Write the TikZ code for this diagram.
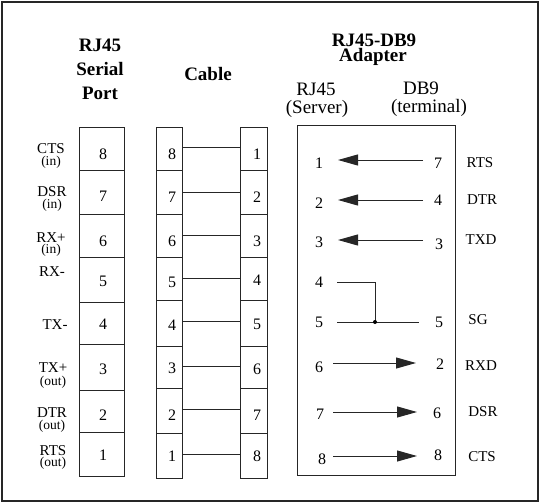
\documentclass[tikz,border=0pt]{standalone}
\usepackage{fontspec}
\setmainfont{Liberation Serif}
\usetikzlibrary{arrows.meta}
\begin{document}
\begin{tikzpicture}[x=1pt,y=-1pt,
  ln/.style={draw=black!85, line width=1pt},
  title/.style={font=\bfseries\fontsize{19}{20}\selectfont, inner sep=0pt, anchor=base},
  head/.style={font=\fontsize{19}{20}\selectfont, inner sep=0pt, anchor=base},
  num/.style={font=\fontsize{16}{17}\selectfont, inner sep=0pt},
  lab/.style={font=\fontsize{15}{16}\selectfont, inner sep=0pt},
  sublab/.style={font=\fontsize{13.5}{14}\selectfont, inner sep=0pt},
  sigarrow/.style={ln, -{Triangle[length=20pt,width=11pt]}}]
\useasboundingbox (0,0) rectangle (540,503);
\draw[draw=black!85, line width=2pt] (2,2) rectangle (538,501);

% titles
\node[title] (t1) at (100,52) {RJ45};
\node[title] (t2) at (100,75) {Serial};
\node[title] (t3) at (100,99) {Port};
\node[title] (t4) at (208,80) {Cable};
\node[title] (t5) at (374,47) {RJ45-DB9};
\node[title] (t6) at (373,62) {Adapter};
\node[head] (h1) at (316,95) {RJ45};
\node[head] (h2) at (317,113) {(Server)};
\node[head] (h3) at (421,94) {DB9};
\node[head] (h4) at (429,112) {(terminal)};

% left RJ45 box
\draw[ln] (79,127) rectangle (124,476);
\foreach \y in {170,214,257,302,344,390,432} \draw[ln] (79,\y) -- (124,\y);
\foreach \n/\y in {8/154,7/196,6/241,5/281,4/324,3/369,2/415,1/455}
  \node[num] (p\n) at (103,\y) {\n};

% signal names
\node[lab] (s1) at (51,149) {CTS};
\node[sublab] (s1b) at (51,162) {(in)};
\node[lab] (s2) at (52,192) {DSR};
\node[sublab] (s2b) at (52,205) {(in)};
\node[lab] (s3) at (51,238) {RX+};
\node[sublab] (s3b) at (51,250) {(in)};
\node[lab] (s4) at (52,272) {RX-};
\node[lab] (s5) at (55,325) {TX-};
\node[lab] (s6) at (53,368) {TX+};
\node[sublab] (s6b) at (53,382) {(out)};
\node[lab] (s7) at (52,413) {DTR};
\node[sublab] (s7b) at (52,426) {(out)};
\node[lab] (s8) at (53,451) {RTS};
\node[sublab] (s8b) at (53,463) {(out)};

% cable boxes
\draw[ln] (156,127) rectangle (182,478);
\draw[ln] (240,127) rectangle (267,478);
\foreach \y in {170,214,257,300,346,388,433} {
  \draw[ln] (156,\y) -- (182,\y);
  \draw[ln] (240,\y) -- (267,\y);
}
\foreach \n/\y in {8/154,7/197,6/241,5/282,4/325,3/368,2/415,1/456}
  \node[num] (cl\n) at (172,\y) {\n};
\foreach \n/\y in {1/154,2/197,3/241,4/280,5/324,6/369,7/415,8/456}
  \node[num] (cr\n) at (257,\y) {\n};
\foreach \i/\y in {1/147,2/192,3/235,4/278,5/321,6/366,7/409,8/454} {
  \coordinate (wl\i) at (182,\y);
  \coordinate (wr\i) at (240,\y);
  \draw[ln] (wl\i) -- (wr\i);
}

% adapter box
\draw[ln] (297,125) rectangle (455,475);
\node[num] (a1) at (319,163) {1};
\node[num] (a2) at (319,203) {2};
\node[num] (a3) at (319,242) {3};
\node[num] (a4) at (319,282) {4};
\node[num] (a5) at (319,322) {5};
\node[num] (a6) at (319,367) {6};
\node[num] (a7) at (320,414) {7};
\node[num] (a8) at (322,459) {8};
\node[num] (b7) at (438,163) {7};
\node[num] (b4) at (438,200) {4};
\node[num] (b3) at (439,244) {3};
\node[num] (b5) at (439,322) {5};
\node[num] (b2) at (440,364) {2};
\node[num] (b6) at (437,413) {6};
\node[num] (b8) at (438,455) {8};
\node[lab] (r1) at (480,163) {RTS};
\node[lab] (r2) at (482,200) {DTR};
\node[lab] (r3) at (481,240) {TXD};
\node[lab] (r5) at (478,320) {SG};
\node[lab] (r6) at (481,366) {RXD};
\node[lab] (r7) at (483,412) {DSR};
\node[lab] (r8) at (482,457) {CTS};

\coordinate (e1s) at (423,160); \coordinate (e1t) at (338,160);
\coordinate (e2s) at (423,200); \coordinate (e2t) at (338,200);
\coordinate (e3s) at (423,240); \coordinate (e3t) at (338,240);
\draw[sigarrow] (e1s) -- (e1t);
\draw[sigarrow] (e2s) -- (e2t);
\draw[sigarrow] (e3s) -- (e3t);
\coordinate (e6s) at (333,363); \coordinate (e6t) at (416,363);
\coordinate (e7s) at (333,412); \coordinate (e7t) at (417,412);
\coordinate (e8s) at (333,456); \coordinate (e8t) at (417,456);
\draw[sigarrow] (e6s) -- (e6t);
\draw[sigarrow] (e7s) -- (e7t);
\draw[sigarrow] (e8s) -- (e8t);

\coordinate (g4) at (337,282);
\coordinate (gc) at (375,282);
\coordinate (gj) at (375,322);
\coordinate (g5) at (337,322);
\coordinate (g5r) at (419,322);
\draw[ln] (g4) -- (gc) -- (gj);
\draw[ln] (g5) -- (g5r);
\fill[black] (gj) circle (2pt);
\end{tikzpicture}
\end{document}
